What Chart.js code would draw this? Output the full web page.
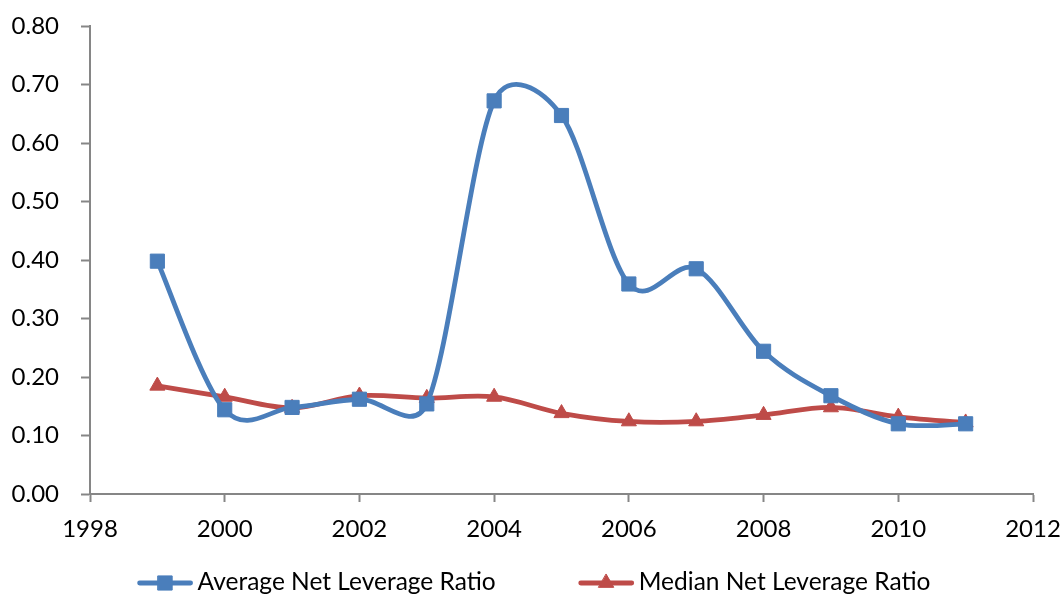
<!DOCTYPE html>
<html>
<head>
<meta charset="utf-8">
<script src="https://cdn.jsdelivr.net/npm/chart.js@4"></script>
<style>
  html, body { margin: 0; padding: 0; background: #ffffff; overflow: hidden; }
  #wrap { width: 1062px; height: 594px; }
</style>
</head>
<body>
<div id="wrap"><canvas id="c" width="1062" height="594"></canvas></div>
<script>
// Years covered by the series
const years = [1999, 2000, 2001, 2002, 2003, 2004, 2005, 2006, 2007, 2008, 2009, 2010, 2011];
// Net leverage ratios per year
const averageNetLeverage = [0.398, 0.144, 0.148, 0.162, 0.154, 0.672, 0.647, 0.359, 0.385, 0.244, 0.168, 0.120, 0.120];
const medianNetLeverage  = [0.185, 0.166, 0.147, 0.168, 0.164, 0.166, 0.138, 0.124, 0.124, 0.135, 0.148, 0.132, 0.122];
// Axis ticks
const xTickValues = [1998, 2000, 2002, 2004, 2006, 2008, 2010, 2012];
const yTickValues = [0.0, 0.1, 0.2, 0.3, 0.4, 0.5, 0.6, 0.7, 0.8];
// Series names
const seriesNames = ['Average Net Leverage Ratio', 'Median Net Leverage Ratio'];

const BLUE = '#4A7EBB';
const RED = '#BE4B48';
const AXIS = '#868686';
const FONT = 'Lato, "Open Sans", sans-serif';

function toPoints(values) {
  return years.map((yr, i) => ({ x: yr, y: values[i] }));
}

// Office-style smoothing: Catmull-Rom tangents (1/6 of the neighbour span),
// with each control arm kept to half of the segment it belongs to.
const officeSmoothing = {
  id: 'officeSmoothing',
  beforeDatasetsDraw(chart) {
    chart.data.datasets.forEach((ds, di) => {
      const meta = chart.getDatasetMeta(di);
      if (!meta.dataset) return;
      meta.dataset.updateControlPoints(chart.chartArea);
      const pts = meta.data;
      const n = pts.length;
      const dist = (a, b) => Math.hypot(b.x - a.x, b.y - a.y);
      for (let i = 0; i < n; i++) {
        const p = pts[i];
        const prev = pts[Math.max(i - 1, 0)];
        const next = pts[Math.min(i + 1, n - 1)];
        const tx = (next.x - prev.x) / 6;
        const ty = (next.y - prev.y) / 6;
        const arm = Math.hypot(tx, ty) || 1;
        const dPrev = i > 0 ? dist(prev, p) : 0;
        const dNext = i < n - 1 ? dist(p, next) : 0;
        const a1 = Math.min(arm, dPrev / 2) / arm;
        const a2 = Math.min(arm, dNext / 2) / arm;
        p.cp1x = p.x - tx * a1;
        p.cp1y = p.y - ty * a1;
        p.cp2x = p.x + tx * a2;
        p.cp2y = p.y + ty * a2;
      }
    });
  }
};

// Legend drawn as line + marker samples under the axis
const bottomLegend = {
  id: 'bottomLegend',
  afterDraw(chart) {
    const ctx = chart.ctx;
    const sampleW = 55, textGap = 5, itemGap = 83;
    const lineY = 583, baseY = 590;
    ctx.save();
    ctx.font = '24.5px ' + FONT;
    const items = chart.data.datasets.map(ds => ({
      ds, tw: ctx.measureText(ds.label).width
    }));
    const total = items.reduce((s, it) => s + sampleW + textGap + it.tw, 0) + itemGap * (items.length - 1);
    let x = chart.width / 2 - total / 2 + 3;
    items.forEach(({ ds, tw }) => {
      ctx.strokeStyle = ds.borderColor;
      ctx.lineWidth = ds.borderWidth;
      ctx.lineCap = 'round';
      ctx.beginPath();
      ctx.moveTo(x + 2, lineY);
      ctx.lineTo(x + sampleW - 2, lineY);
      ctx.stroke();
      ctx.fillStyle = ds.borderColor;
      ctx.lineWidth = 1;
      Chart.helpers.drawPoint(ctx, {
        pointStyle: ds.pointStyle,
        radius: ds.pointRadius,
        borderWidth: 1
      }, x + sampleW / 2, lineY);
      ctx.fillStyle = '#000000';
      ctx.textBaseline = 'alphabetic';
      ctx.textAlign = 'left';
      ctx.fillText(ds.label, x + sampleW + textGap, baseY);
      x += sampleW + textGap + tw + itemGap;
    });
    ctx.restore();
  }
};

new Chart(document.getElementById('c'), {
  type: 'line',
  data: {
    datasets: [
      {
        label: seriesNames[0],
        data: toPoints(averageNetLeverage),
        borderColor: BLUE,
        backgroundColor: BLUE,
        borderWidth: 4.8,
        tension: 0.4,
        pointStyle: 'rect',
        pointRadius: 10,
        pointBorderWidth: 1,
        pointBackgroundColor: BLUE,
        pointBorderColor: BLUE,
        fill: false
      },
      {
        label: seriesNames[1],
        data: toPoints(medianNetLeverage),
        borderColor: RED,
        backgroundColor: RED,
        borderWidth: 4.8,
        tension: 0.4,
        pointStyle: 'triangle',
        pointRadius: 8.7,
        pointBorderWidth: 1,
        pointBackgroundColor: RED,
        pointBorderColor: RED,
        fill: false
      }
    ]
  },
  options: {
    responsive: false,
    animation: false,
    devicePixelRatio: 1,
    layout: { padding: { left: 0, right: 29, top: 26, bottom: 0 } },
    plugins: {
      legend: { display: false },
      tooltip: { enabled: false }
    },
    scales: {
      x: {
        type: 'linear',
        min: xTickValues[0],
        max: xTickValues[xTickValues.length - 1],
        afterBuildTicks(scale) { scale.ticks = xTickValues.map(v => ({ value: v })); },
        afterFit(scale) {
          scale.height = 100;
          scale.paddingLeft = 0;
          scale.paddingRight = 0;
        },
        grid: { drawOnChartArea: false, drawTicks: true, tickLength: 8, tickWidth: 2, tickColor: AXIS, color: AXIS },
        border: { display: true, color: AXIS, width: 2 },
        ticks: {
          color: '#000000',
          font: { family: FONT, size: 24 },
          padding: 13,
          maxRotation: 0,
          callback: v => String(v)
        }
      },
      y: {
        min: yTickValues[0],
        max: yTickValues[yTickValues.length - 1],
        afterBuildTicks(scale) { scale.ticks = yTickValues.map(v => ({ value: v })); },
        afterFit(scale) {
          scale.width = 90;
          scale.paddingTop = 0;
          scale.paddingBottom = 0;
        },
        grid: { drawOnChartArea: false, drawTicks: true, tickLength: 9, tickWidth: 2, tickColor: AXIS, color: AXIS },
        border: { display: true, color: AXIS, width: 2 },
        ticks: {
          color: '#000000',
          font: { family: FONT, size: 24 },
          padding: 22,
          callback: v => Number(v).toFixed(2)
        }
      }
    }
  },
  plugins: [officeSmoothing, bottomLegend]
});
</script>
</body>
</html>
